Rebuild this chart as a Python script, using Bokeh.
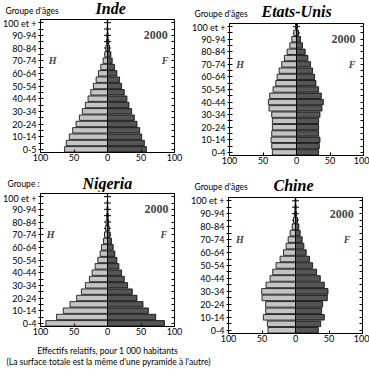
from bokeh.plotting import figure
from bokeh.layouts import column, row
from bokeh.models import Range1d, LinearAxis, FixedTicker, Span, Label
from bokeh.embed import file_html
from bokeh.resources import INLINE

# ---- data (index 0 = 0-4 ans ... index 20 = 100 et +) ----
age_groups = ["0-4", "5-9", "10-14", "15-19", "20-24", "25-29", "30-34", "35-39",
              "40-44", "45-49", "50-54", "55-59", "60-64", "65-69", "70-74",
              "75-79", "80-84", "85-89", "90-94", "95-99", "100 et +"]
x_ticks = [-100, -50, 0, 50, 100]
x_tick_labels = ["100", "50", "0", "50", "100"]

inde_h = [64, 61.5, 57, 52, 47, 42, 37.5, 33, 29, 25, 21, 17, 13.5, 10, 6.5, 4, 2.5, 1.5, 1, 0.5, 0.3]
inde_f = [58, 55, 51, 48, 44, 40, 36, 32, 29, 25, 21, 18, 14, 10.5, 7, 5, 3, 2, 1, 0.5, 0.3]

usa_h = [36, 37, 38, 37, 36, 36, 37, 41, 42, 40, 35, 31, 29, 26, 22, 18, 14, 10, 7, 4, 1.5]
usa_f = [33, 34, 35, 33, 33, 33, 35, 38, 40, 37, 33, 29, 27, 24, 21, 17, 13, 9, 6, 3, 1.5]

nigeria_h = [92, 76, 66, 56, 46, 39, 33, 27, 23, 18.5, 14.5, 11, 9, 6, 4.5, 3, 2, 1.2, 0.8, 0.4, 0.2]
nigeria_f = [85, 72, 61, 53, 44, 37, 30, 25, 21, 17, 14, 11, 8.5, 6, 4, 2.5, 1.8, 1.2, 0.8, 0.4, 0.2]

chine_h = [41, 42, 48, 44.5, 44.5, 50, 50.5, 44, 38, 34, 29, 23, 18, 14, 11, 8, 5, 3, 1.5, 1, 0.5]
chine_f = [34, 37.5, 43, 39, 40.5, 47.5, 48.5, 43, 37, 31.5, 25.5, 21, 16, 12.5, 10, 7, 5, 3, 1.5, 1, 0.5]

year = "2000"

SANS = "Lato"
SERIF = "Liberation Serif"


def blank(width, height):
    p = figure(width=width, height=height, x_range=Range1d(0, width),
               y_range=Range1d(height, 0), toolbar_location=None,
               output_backend="svg", min_border=0)
    p.axis.visible = False
    p.grid.visible = False
    p.outline_line_color = None
    p.background_fill_color = "white"
    p.border_fill_color = "white"
    return p


def header(title, group_text, width, height, tx, ty, gx, gy):
    p = blank(width, height)
    p.add_layout(Label(x=tx, y=ty, text=title, text_font=SERIF,
                       text_font_style="bold italic", text_font_size="16px",
                       text_align="left", text_baseline="middle", text_color="black"))
    p.add_layout(Label(x=gx, y=gy, text=group_text, text_font=SANS,
                       text_font_size="8.5px", text_align="left", text_baseline="middle",
                       text_color="black"))
    return p


def pyramid(h, f, first_label, width, height, bl, br, bt, bb, hx, fx, yx):
    idx = list(range(len(age_groups)))
    p = figure(width=width, height=height, x_range=Range1d(-100, 100),
               y_range=Range1d(-0.5, 20.5), toolbar_location=None,
               output_backend="svg", min_border_left=bl, min_border_right=br,
               min_border_top=bt, min_border_bottom=bb)
    p.background_fill_color = "white"
    p.border_fill_color = "white"
    p.outline_line_color = "black"
    p.grid.visible = False

    # center axis with small crossing ticks
    p.scatter(x=[0] * len(idx), y=idx, marker="dash", size=7, line_color="black")
    p.hbar(y=idx, left=[-v for v in h], right=0, height=0.86,
           fill_color="#c4c4c4", line_color="black", line_width=0.8)
    p.hbar(y=idx, left=0, right=f, height=0.86,
           fill_color="#555555", line_color="black", line_width=0.8)
    p.add_layout(Span(location=0, dimension="height", line_color="black", line_width=1))

    labels = {i: (age_groups[i] if i % 2 == 0 else "") for i in idx}
    labels[0] = first_label
    yax = p.yaxis[0]
    yax.ticker = FixedTicker(ticks=idx)
    yax.major_label_overrides = labels
    yax.major_label_text_font = SANS
    yax.major_label_text_font_size = "9px"
    yax.major_label_text_color = "black"
    yax.major_tick_in = 3
    yax.major_tick_out = 2
    yax.minor_tick_line_color = None
    yax.major_label_standoff = 2
    yax.axis_line_color = "black"

    xax = p.xaxis[0]
    xax.ticker = FixedTicker(ticks=x_ticks)
    xax.major_label_overrides = dict(zip(x_ticks, x_tick_labels))
    xax.major_label_text_font = SANS
    xax.major_label_text_font_size = "9px"
    xax.major_label_text_color = "black"
    xax.major_tick_in = 3
    xax.major_tick_out = 0
    xax.minor_tick_line_color = None
    xax.major_label_standoff = 1

    rax = LinearAxis(ticker=FixedTicker(ticks=idx),
                     major_label_overrides={i: "" for i in idx},
                     major_tick_in=3, major_tick_out=0, major_label_standoff=0,
                     minor_tick_line_color=None, axis_line_color="black")
    p.add_layout(rax, "right")

    p.add_layout(Label(x=hx, y=14, text="H", text_font=SERIF, text_font_style="bold italic",
                       text_font_size="10px", text_align="center", text_baseline="middle"))
    p.add_layout(Label(x=fx, y=14, text="F", text_font=SERIF, text_font_style="bold italic",
                       text_font_size="10px", text_align="center", text_baseline="middle"))
    p.add_layout(Label(x=yx, y=18, text=year, text_font=SERIF, text_font_style="bold",
                       text_font_size="12px", text_align="right", text_baseline="middle"))
    return p


h1 = header("Inde", "Groupe d'âges", 184, 17, 95, 8, 5, 10)
p1 = pyramid(inde_h, inde_f, "0-5", 184, 153, 40, 10, 2, 18, -82, 86, 90)

h2 = header("Etats-Unis", "Groupe d'âges", 185, 21, 77, 11, 10, 13)
p2 = pyramid(usa_h, usa_f, "0-4", 185, 149, 45, 6, 2, 15, -84, 83, 88)

h3 = header("Nigeria", "Groupe :", 184, 22, 82, 13, 7, 13)
p3 = pyramid(nigeria_h, nigeria_f, "0-4", 184, 153, 40, 10, 1, 19, -85, 84, 91)

h4 = header("Chine", "Groupe d'âges", 185, 24, 89, 15, 10, 16)
p4 = pyramid(chine_h, chine_f, "0-4", 185, 151, 44, 7, 3, 12, -83, 77, 87)

cap = blank(369, 24)
cap.add_layout(Label(x=107, y=5, text="Effectifs relatifs, pour 1 000 habitants",
                     text_font=SANS, text_font_size="8.5px", text_align="center",
                     text_baseline="middle", text_color="black"))
cap.add_layout(Label(x=108, y=16, text="(La surface totale est la même d'une pyramide à l'autre)",
                     text_font=SANS, text_font_size="8.5px", text_align="center",
                     text_baseline="middle", text_color="black"))


def stack(a, b):
    # wrap each figure in its own row so that frames are not aligned
    return column(row(a), row(b))


layout = column(row(stack(h1, p1), stack(h2, p2)),
                row(stack(h3, p3), stack(h4, p4)),
                row(cap))

html = file_html(layout, INLINE, title="Pyramides des âges")
html = html.replace("<head>", "<head><style>html,body{margin:0;padding:0;}</style>", 1)
open("out.html", "w").write(html)
